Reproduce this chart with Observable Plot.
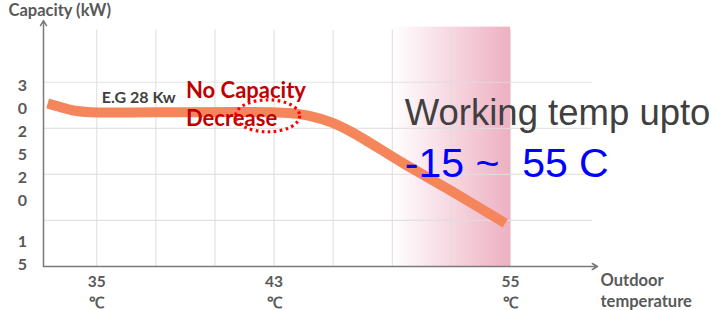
<!DOCTYPE html>
<html><head><meta charset="utf-8">
<script src="https://cdn.jsdelivr.net/npm/d3@7"></script>
<script src="https://cdn.jsdelivr.net/npm/@observablehq/plot@0.6"></script>
<style>body{margin:0;background:#fff}</style>
</head><body><div id="chart"></div>
<script>
// x values are gridline positions (the reference's temperature axis is drawn schematically)
const xGrid = [1, 2, 3, 4, 5, 6, 7, 8];
const xTickPos = [1, 4, 8];
const xTickLabels = ["35", "43", "55"];
const yGrid = [15, 20, 25, 30];
const yTickVals = [30, 25, 20];
const yTickLabels = ["30", "25", "20"];
const yLowTickVal = [15];
const yLowTickLabel = ["15"];
// capacity curve
const curveX = [0.17, 0.39, 0.64, 0.9, 2.0, 3.95, 4.29, 4.63, 4.97, 5.31, 6.16, 7.01, 7.91];
const curveY = [27.7, 27.3, 26.9, 26.74, 26.74, 26.74, 26.63, 26.3, 25.65, 24.6, 21.3, 18.15, 14.7];
const hotZone = [6, 8];

const curve = curveX.map((x, i) => ({x, y: curveY[i]}));
const labelFont = "Lato, 'Open Sans', sans-serif";
const xMin = 0.1, xMax = 9.47, yMin = 10, yMax = 36.7;

const chart = Plot.plot({
  width: 717, height: 310,
  marginLeft: 43, marginRight: 120, marginTop: 20, marginBottom: 44,
  x: {domain: [xMin, xMax], axis: null},
  y: {domain: [yMin, yMax], axis: null},
  style: {background: "#fff", overflow: "visible"},
  marks: [
    () => {
      const defs = d3.create("svg:defs");
      const g = defs.append("linearGradient").attr("id", "hotgrad").attr("x1", 0).attr("x2", 1).attr("y1", 0).attr("y2", 0);
      g.append("stop").attr("offset", "0%").attr("stop-color", "#ffffff");
      g.append("stop").attr("offset", "100%").attr("stop-color", "#EDB0C3");
      return defs.node();
    },
    Plot.rect([hotZone], {x1: d => d[0], x2: d => d[1], y1: yMin, y2: 35.98, fill: "url(#hotgrad)"}),
    Plot.ruleY(yGrid, {x1: xMin, x2: 9.39, stroke: "#dedede", strokeWidth: 1.2, strokeOpacity: 0.85}),
    Plot.ruleX(xGrid, {y1: yMin, y2: 35.65, stroke: "#e2dadd", strokeWidth: 1.2, strokeOpacity: 0.85}),
    Plot.arrow([0], {x1: xMin, y1: yMin, x2: xMax, y2: yMin, stroke: "#7a7a7a", strokeWidth: 1.5, headLength: 6}),
    Plot.arrow([0], {x1: xMin, y1: yMin, x2: xMin, y2: yMax, stroke: "#7a7a7a", strokeWidth: 1.5, headLength: 6}),
    Plot.line(curve, {x: "x", y: "y", stroke: "#F5855A", strokeWidth: 10, curve: "catmull-rom", strokeLinecap: "butt"}),
    // y tick labels (digits stacked)
    Plot.text(yTickVals, {x: xMin, y: d => d, text: (d, i) => yTickLabels[i].split("").join("\n"), dx: -21, textAnchor: "middle", lineAnchor: "top", dy: -7, lineHeight: 1.4, fontSize: 16, fontWeight: "bold", fill: "#595959", fontFamily: labelFont}),
    Plot.text(yLowTickVal, {x: xMin, y: d => d, text: (d, i) => yLowTickLabel[i].split("").join("\n"), dx: -21, textAnchor: "middle", lineAnchor: "top", dy: 11, lineHeight: 1.4, fontSize: 16, fontWeight: "bold", fill: "#595959", fontFamily: labelFont}),
    // x tick labels
    Plot.text(xTickPos, {x: d => d, y: yMin, text: (d, i) => xTickLabels[i] + "\n\u2103", textAnchor: "middle", lineAnchor: "top", dy: 6, lineHeight: 1.35, fontSize: 15.5, fontWeight: "bold", fill: "#595959", fontFamily: labelFont}),
    Plot.text(["Outdoor\ntemperature"], {x: xMax, y: yMin, textAnchor: "start", lineAnchor: "top", dx: 3, dy: 4, lineHeight: 1.28, fontSize: 16.5, fontWeight: "bold", fill: "#595959", fontFamily: labelFont}),
    Plot.text(["Capacity (kW)"], {frameAnchor: "top-left", dx: -35, dy: -9.5, textAnchor: "start", lineAnchor: "middle", fontSize: 16.5, fontWeight: "bold", fill: "#595959", fontFamily: labelFont}),
    // annotations
    Plot.text(["E.G 28 Kw"], {x: 1.085, y: 28.26, textAnchor: "start", lineAnchor: "middle", fontSize: 16, fontWeight: "bold", fill: "#404040", fontFamily: labelFont}),
    Plot.text(["No Capacity\nDecrease"], {x: 2.51, y: 27.72, textAnchor: "start", lineAnchor: "middle", lineHeight: 1.27, fontSize: 22, fontWeight: "bold", fill: "#C00000", fontFamily: labelFont}),
    (index, {x, y}) => d3.create("svg:ellipse")
      .attr("cx", x(3.9)).attr("cy", y(26.3)).attr("rx", 32).attr("ry", 16)
      .attr("fill", "none").attr("stroke", "#FF0000").attr("stroke-width", 3.2)
      .attr("stroke-dasharray", "2.6 3.4").node(),
    Plot.text(["Working temp upto"], {x: 6.21, y: 25.54, dy: 2, textAnchor: "start", lineAnchor: "bottom", fontSize: 36.5, fill: "#404040", fontFamily: "'Liberation Sans', Arial, sans-serif"}),
    Plot.text(["-15 ~\u00a0\u00a055 C"], {x: 6.21, y: 19.89, dy: 2, textAnchor: "start", lineAnchor: "bottom", fontSize: 41, fill: "#0000FF", fontFamily: "'Liberation Sans', Arial, sans-serif"})
  ]
});
document.getElementById("chart").append(chart);
</script>
</body></html>
